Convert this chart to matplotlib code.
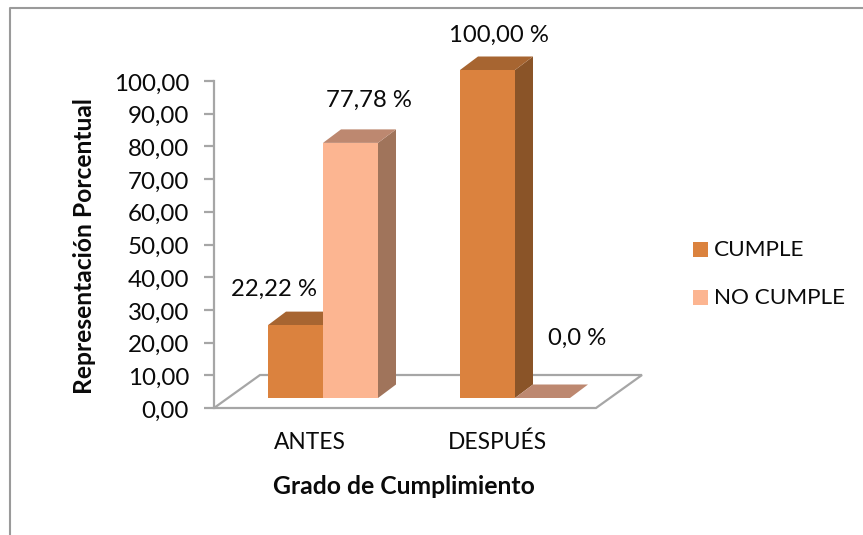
import matplotlib
matplotlib.use('Agg')
import matplotlib.pyplot as plt
from matplotlib.patches import Polygon
from matplotlib.transforms import ScaledTranslation

plt.rcParams['font.family'] = ['Lato', 'DejaVu Sans']

# Data
categories = ['ANTES', 'DESPUÉS']
series_names = ['CUMPLE', 'NO CUMPLE']
cumple = [22.22, 100.0]
no_cumple = [77.78, 0.0]
cumple_labels = ['22,22 %', '100,00 %']
no_cumple_labels = ['77,78 %', '0,0 %']
yticks = [0, 10, 20, 30, 40, 50, 60, 70, 80, 90, 100]

W, H = 863, 535
GREY = '#a6a6a6'
TXT = '#0a0a0a'
ORANGE = ('#db823e', '#a76531', '#8a5428')
PEACH = ('#fcb591', '#bd8870', '#a0745b')

fig = plt.figure(figsize=(W / 100, H / 100), dpi=100)
# axes box in pixels: x 214-596, y 81-408
ax = fig.add_axes([214 / W, 1 - 408 / H, (596 - 214) / W, (408 - 81) / H])
ax.set_xlim(-0.5, 1.5)
ax.set_ylim(0, 100)
ax.patch.set_visible(False)

px_x = 2.0 / (596 - 214)   # data units per pixel
px_y = 100.0 / (408 - 81)

# floor
floor_dx = 46 * px_x
floor_dy = 33 * px_y
ax.add_patch(Polygon([(-0.5, 0), (1.5, 0), (1.5 + floor_dx, floor_dy), (-0.5 + floor_dx, floor_dy)],
                     closed=True, fc='white', ec=GREY, lw=1.6, clip_on=False, zorder=1))


# one 3D looking bar, front face starts a bit inside of the floor
def bar3d(x0, val, colors):
    w = 55 * px_x
    dx = 18 * px_x
    dy = 13.5 * px_y
    base = 10 * px_y
    top = base + val * (328 / 327)
    front, roof, side = colors
    if val > 0:
        ax.add_patch(Polygon([(x0 + w, base), (x0 + w + dx, base + dy), (x0 + w + dx, top + dy), (x0 + w, top)],
                             closed=True, fc=side, ec='none', clip_on=False, zorder=3))
        ax.add_patch(Polygon([(x0, base), (x0 + w, base), (x0 + w, top), (x0, top)],
                             closed=True, fc=front, ec='none', clip_on=False, zorder=4))
    ax.add_patch(Polygon([(x0, top), (x0 + w, top), (x0 + w + dx, top + dy), (x0 + dx, top + dy)],
                         closed=True, fc=roof, ec='none', clip_on=False, zorder=3))


for i in range(len(categories)):
    mid = i + (13.5 + i) * px_x
    bar3d(mid - 55 * px_x, cumple[i], ORANGE)
    bar3d(mid, no_cumple[i], PEACH)

# value labels
label_x = [[-0.5 + (274 - 214) * px_x, -0.5 + (369 - 214) * px_x],
           [-0.5 + (499 - 214) * px_x, -0.5 + (577 - 214) * px_x]]
label_y = [[(408 - 289) * px_y, (408 - 100) * px_y],
           [(408 - 35) * px_y, (408 - 338) * px_y]]
for i in range(len(categories)):
    ax.text(label_x[i][0], label_y[i][0], cumple_labels[i], ha='center', va='center', fontsize=17.2, color=TXT)
    ax.text(label_x[i][1], label_y[i][1], no_cumple_labels[i], ha='center', va='center', fontsize=17.2, color=TXT)

# axes
for s in ['top', 'right', 'bottom']:
    ax.spines[s].set_visible(False)
ax.spines['left'].set_color(GREY)
ax.spines['left'].set_linewidth(1.6)
ax.set_yticks(yticks)
ax.set_yticklabels(['%d,00' % v for v in yticks], fontsize=17.4, color=TXT)
ax.tick_params(axis='y', length=7, width=1.6, color=GREY, pad=11)
ax.set_xticks([0, 1])
ax.set_xticklabels(categories, fontsize=16.4, color=TXT)
ax.tick_params(axis='x', length=0, pad=17)

# small nudges of tick labels, in pixels
for lab in ax.get_yticklabels():
    lab.set_transform(lab.get_transform() + ScaledTranslation(0, -1 / 100, fig.dpi_scale_trans))
lab = ax.get_xticklabels()[1]
lab.set_transform(lab.get_transform() + ScaledTranslation(-3.5 / 100, 0, fig.dpi_scale_trans))

fig.text(404 / W, 1 - 486 / H, 'Grado de Cumplimiento', ha='center', va='center',
         fontsize=17.8, fontweight='bold', color=TXT)
fig.text(85 / W, 1 - 246 / H, 'Representación Porcentual', ha='center', va='center',
         rotation=90, fontsize=17.7, fontweight='bold', color=TXT)

# legend
leg_colors = [ORANGE[0], PEACH[0]]
leg_y = [249.5, 297.5]
for name, c, ly in zip(series_names, leg_colors, leg_y):
    fig.patches.append(plt.Rectangle((693 / W, 1 - (ly + 7.5) / H), 15 / W, 15 / H, fc=c, ec='none',
                                     transform=fig.transFigure))
    fig.text(714 / W, 1 - (ly + 0.5) / H, name, ha='left', va='center', fontsize=16.2, color=TXT)

# outer frame, open on the right and bottom of the crop
fig.add_artist(plt.Line2D([9.5 / W, 9.5 / W, 1], [0, 1 - 7.5 / H, 1 - 7.5 / H], color='#9a9a9a', lw=1.5))

fig.savefig('out.png', dpi=100)
